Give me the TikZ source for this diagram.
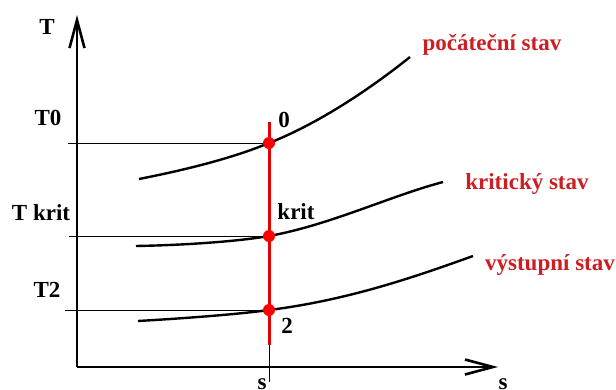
\documentclass[tikz,border=0pt]{standalone}
\usepackage{fontspec}
\setmainfont{Liberation Serif}[BoldFont={Liberation Serif Bold}]
\usetikzlibrary{arrows.meta}
\definecolor{stavred}{RGB}{205,30,35}
\tikzset{
 axis/.style={line width=2.4pt,-{Straight Barb[length=28pt,width=15pt,line width=2.6pt]}},
 level/.style={line width=.8pt},
 curve/.style={line width=2.4pt},
 isoline/.style={draw=red!90!black,line width=3pt},
 statedot/.style={circle,fill=red,minimum size=12pt,inner sep=0},
 axlabel/.style={font=\fontsize{23}{25}\selectfont\bfseries},
 statelabel/.style={font=\fontsize{23}{25}\selectfont\bfseries,text=stavred}
}
\begin{document}
\begin{tikzpicture}[x=1pt,y=-1pt]
\path[use as bounding box,fill=white] (0,0) rectangle (616,389);
\coordinate (O) at (77,367);
\coordinate (Ttop) at (77,15);
\coordinate (Send) at (498,367);
\coordinate (P0) at (269,143);
\coordinate (Pk) at (269,236);
\coordinate (P2) at (269,310);
\coordinate (Lup) at (269,122);
\coordinate (Llow) at (269,345);
\coordinate (Lbase) at (269,382);
% axes
\draw[axis] (O) -- (Ttop);
\draw[axis] (O) -- (Send);
% levels
\draw[level] (68,143) -- (P0);
\draw[level] (69,236) -- (Pk);
\draw[level] (65,310) -- (P2);
\draw[level] (Llow) -- (Lbase);
% curves
\draw[curve] (139,179) .. controls (200,167) and (240,155) .. (P0)
  .. controls (310,127) and (360,97) .. (410,57);
\draw[curve] (136,246) .. controls (190,245) and (240,241) .. (Pk)
  .. controls (330,225) and (390,196) .. (443,182);
\draw[curve] (138,321) .. controls (190,318) and (240,314) .. (P2)
  .. controls (350,300) and (420,275) .. (473,256);
% isentrope
\draw[isoline] (Lup) -- (Llow);
\node[statedot] (d0) at (P0) {};
\node[statedot] (dk) at (Pk) {};
\node[statedot] (d2) at (P2) {};
% labels
\node[axlabel] (lT) at (47,27) {T};
\node[axlabel] (lT0) at (48,118) {T0};
\node[axlabel] (lTk) at (41,213) {T krit};
\node[axlabel] (lT2) at (47,290) {T2};
\node[axlabel] (l0) at (284,120) {0};
\node[axlabel] (lk) at (296,212) {krit};
\node[axlabel] (l2) at (287,326) {2};
\node[axlabel,anchor=north] (ls) at (262,375) {s};
\node[axlabel,anchor=north] (lsax) at (503,375) {s};
\node[statelabel] (lstart) at (492,45) {počáteční stav};
\node[statelabel] (lcrit) at (527,184) {kritický stav};
\node[statelabel] (lout) at (550,265) {výstupní stav};
\end{tikzpicture}
\end{document}
